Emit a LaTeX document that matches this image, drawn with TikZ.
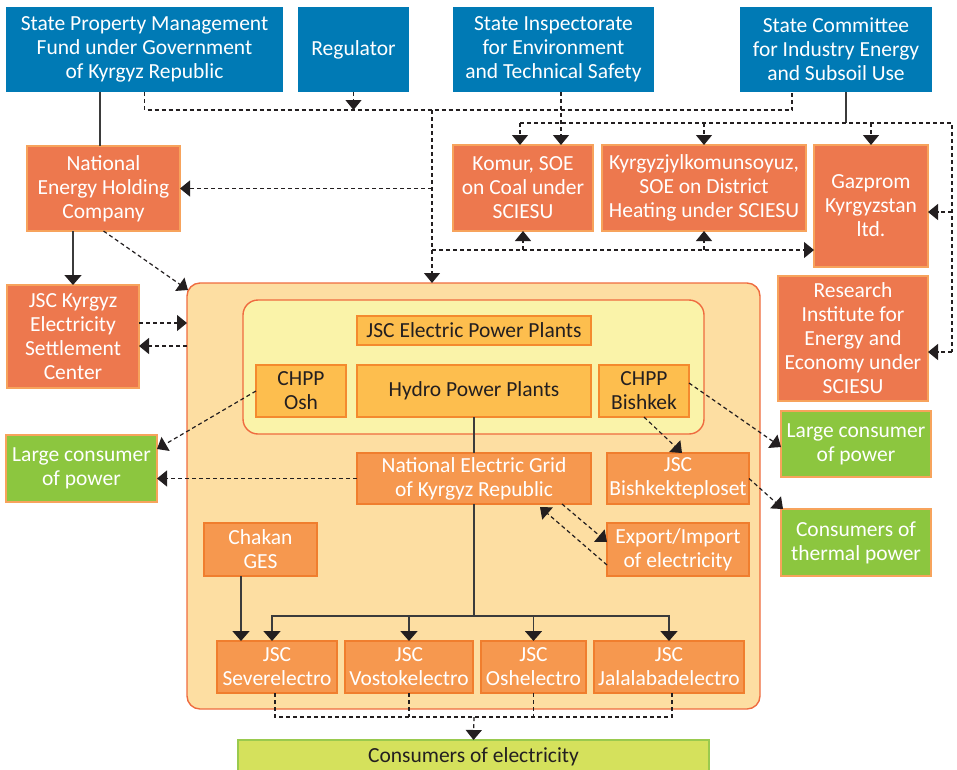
\documentclass[tikz,border=0pt]{standalone}
\usepackage{fontspec}
\setmainfont{Carlito}
\usepackage{xcolor}
\usepackage{tikz}
\usetikzlibrary{arrows.meta,positioning,calc}
\definecolor{govblue}{HTML}{007AB5}
\definecolor{orgfill}{HTML}{ED784E}
\definecolor{orgline}{HTML}{F7A35C}
\definecolor{unitfill}{HTML}{F6984F}
\definecolor{unitline}{HTML}{F07E2E}
\definecolor{plantfill}{HTML}{FDBE4E}
\definecolor{plantline}{HTML}{F48A2E}
\definecolor{holdfill}{HTML}{FDDEA2}
\definecolor{innerfill}{HTML}{FAF3A9}
\definecolor{holdline}{HTML}{EF6B3F}
\definecolor{userfill}{HTML}{8CC63F}
\definecolor{sumfill}{HTML}{D5E15C}
\definecolor{sumline}{HTML}{9ACA4E}
\definecolor{inkdark}{HTML}{231F20}
\definecolor{linegray}{HTML}{3B3B3B}
\tikzset{
  govbox/.style={fill=govblue, text=white, minimum height=85pt, align=center, inner sep=2pt, outer sep=0pt},
  orgbox/.style={draw=orgline, line width=1.2pt, fill=orgfill, text=white, align=center, inner sep=2pt, outer sep=0pt},
  unitbox/.style={draw=unitline, line width=1.2pt, fill=unitfill, text=white, align=center, inner sep=2pt, outer sep=0pt},
  plantbox/.style={draw=plantline, line width=1.2pt, fill=plantfill, text=inkdark, align=center, inner sep=2pt, outer sep=0pt},
  userbox/.style={draw=orgline, line width=1.2pt, fill=userfill, text=white, align=center, inner sep=2pt, outer sep=0pt},
  sumbox/.style={draw=sumline, line width=1.2pt, fill=sumfill, text=inkdark, align=center, inner sep=2pt, outer sep=0pt},
  holder/.style={draw=holdline, line width=1.4pt, rounded corners=13pt, inner sep=0pt, outer sep=0pt},
  plainline/.style={draw=linegray, line width=1.6pt},
  linkarrow/.style={plainline, -{Triangle[length=10pt,width=17pt,color=inkdark]}},
  dashline/.style={draw=inkdark, line width=1.2pt, dash pattern=on 4pt off 3pt},
  dasharrow/.style={dashline, -{Triangle[length=10pt,width=16pt]}},
}
\begin{document}
\begin{tikzpicture}[x=1pt, y=-1pt, font=\fontsize{21.5}{24}\selectfont]
  \path[use as bounding box, clip] (0,0) rectangle (957,769);

  % Government bodies
  \node[govbox, minimum width=277pt, anchor=north west] (spm) at (6,7) {State Property Management\\Fund under Government\\of Kyrgyz Republic};
  \node[govbox, minimum width=111pt, right=15pt of spm] (reg) {Regulator};
  \node[govbox, minimum width=201pt, right=44pt of reg] (insp) {State Inspectorate\\for Environment\\and Technical Safety};
  \node[govbox, minimum width=192pt, right=86pt of insp] (com) {State Committee\\for Industry Energy\\and Subsoil Use};

  % Holding and state enterprises
  \node[orgbox, minimum width=153pt, minimum height=85pt, anchor=north west] (nehc) at (27,146) {National\\Energy Holding\\Company};
  \node[orgbox, minimum width=132pt, minimum height=103pt, anchor=north west] (kesc) at (7,285) {JSC Kyrgyz\\Electricity\\Settlement\\Center};
  \node[orgbox, minimum width=140pt, minimum height=86pt, anchor=north west] (komur) at (453,145) {Komur, SOE\\on Coal under\\SCIESU};
  \node[orgbox, minimum width=204pt, minimum height=86pt, right=9pt of komur] (kyr) {Kyrgyzjylkomunsoyuz,\\SOE on District\\Heating under SCIESU};
  \node[orgbox, minimum width=114pt, minimum height=122pt, anchor=north west] (gaz) at (814,145) {Gazprom\\Kyrgyzstan\\ltd.};
  \node[orgbox, minimum width=150pt, minimum height=125pt, anchor=north west] (res) at (778,276) {Research\\Institute for\\Energy and\\Economy under\\SCIESU};

  % Energy sector
  \node[holder, fill=holdfill, minimum width=573pt, minimum height=426pt, anchor=north west] (big) at (187,283) {};
  \node[holder, fill=innerfill, rounded corners=15pt, minimum width=461pt, minimum height=134pt, anchor=north west] (inner) at (243,300) {};
  \node[plantbox, minimum width=234pt, minimum height=29pt, anchor=north west] (epp) at (357,316) {JSC Electric Power Plants};
  \node[plantbox, minimum width=234pt, minimum height=52pt, below=20pt of epp] (hydro) {Hydro Power Plants};
  \node[plantbox, minimum width=90pt, minimum height=52pt, left=11pt of hydro] (osh) {CHPP\\Osh};
  \node[plantbox, minimum width=90pt, minimum height=52pt, right=8pt of hydro] (bish) {CHPP\\Bishkek};
  \node[unitbox, minimum width=234pt, minimum height=51pt, below=36pt of hydro] (neg) {National Electric Grid\\of Kyrgyz Republic};
  \node[unitbox, minimum width=142pt, minimum height=51pt, right=16pt of neg] (btp) {JSC\\Bishkekteploset};
  \node[unitbox, minimum width=142pt, minimum height=53pt, below=19pt of btp] (expo) {Export/Import\\of electricity};
  \node[unitbox, minimum width=113pt, minimum height=53pt, anchor=north west] (chakan) at (204,523) {Chakan\\GES};
  \node[unitbox, minimum width=120pt, minimum height=52pt, anchor=north west] (sever) at (217,641) {JSC\\Severelectro};
  \node[unitbox, minimum width=128pt, minimum height=52pt, right=8pt of sever] (vost) {JSC\\Vostokelectro};
  \node[unitbox, minimum width=105pt, minimum height=52pt, right=8pt of vost] (oshel) {JSC\\Oshelectro};
  \node[unitbox, minimum width=150pt, minimum height=52pt, right=8pt of oshel] (jal) {JSC\\Jalalabadelectro};

  % Consumers
  \node[userbox, minimum width=151pt, minimum height=67pt, anchor=north west] (lcl) at (6,435) {Large consumer\\of power};
  \node[userbox, minimum width=150pt, minimum height=66pt, anchor=north west] (lcr) at (781,411) {Large consumer\\of power};
  \node[userbox, minimum width=150pt, minimum height=67pt, below=32pt of lcr] (therm) {Consumers of\\thermal power};
  \node[sumbox, minimum width=471pt, minimum height=34pt, anchor=north west] (cons) at (238,740) {Consumers of electricity};

  % Bus coordinates
  \coordinate (hubA) at (432,110);
  \coordinate (hubB) at (846,123);
  \coordinate (rail) at (952,123);
  \coordinate (low) at (432,250);
  \coordinate (fork) at (474,616);
  \coordinate (sink) at (474,717);
  \coordinate (gazin) at ([yshift=-6pt]gaz.east);
  \coordinate (resin) at ([yshift=-13.5pt]res.east);

  % Upper connections
  \draw[plainline] (spm.south -| nehc.north) ++(-3.5,0) -- ([xshift=-3.5pt]nehc.north);
  \draw[linkarrow] (kesc.north |- nehc.south) -- (kesc.north);
  \draw[dasharrow] (nehc.south) -- ([shift={(1pt,-7pt)}]big.north west);
  \draw[dasharrow] ([yshift=13.5pt]kesc.east) -- ([yshift=13.5pt]kesc.east -| big.west);
  \draw[dasharrow] ([yshift=-9.5pt]kesc.east -| big.west) -- ([yshift=-9.5pt]kesc.east);
  \draw[dashline] (spm.south) |- ([xshift=-44pt]com.south |- hubA) -- ([xshift=-44pt]com.south);
  \draw[dasharrow] (reg.south) -- (reg.south |- hubA);
  \draw[dasharrow] ([xshift=7.5pt]insp.south) -- ([xshift=7.5pt]insp.south |- komur.north);
  \draw[dasharrow] (hubA) -- (hubA |- big.north);
  \draw[dasharrow] (hubA |- nehc.east) -- (nehc.east);
  \draw[dasharrow] (low) -- (low -| gaz.west);
  \draw[dasharrow] (komur.south |- low) -- (komur.south);
  \draw[dasharrow] (kyr.south |- low) -- (kyr.south);
  \draw[plainline] ([xshift=10pt]com.south) -- (hubB);
  \draw[dashline] ([xshift=-3pt]komur.north |- hubB) -| (rail |- resin);
  \draw[dasharrow] ([xshift=-3pt]komur.north |- hubB) -- ([xshift=-3pt]komur.north);
  \draw[dasharrow] (kyr.north |- hubB) -- (kyr.north);
  \draw[dasharrow] (gaz.north |- hubB) -- (gaz.north);
  \draw[dasharrow] (rail |- gazin) -- (gazin);
  \draw[dasharrow] (rail |- resin) -- (resin);

  % Plants and grid
  \draw[dasharrow] (osh.west) -- ([yshift=-14pt]lcl.north east);
  \draw[dasharrow] (neg.west) -- (neg.west -| lcl.east);
  \draw[dasharrow] ([yshift=8pt]bish.east) -- ([yshift=-3pt]lcr.west);
  \draw[dasharrow] (bish.south) -- ([xshift=4pt]btp.north);
  \draw[dasharrow] (btp.east) -- ([xshift=2pt]therm.north west);
  \draw[dasharrow] ([xshift=88pt]neg.south) -- ([yshift=7.5pt]expo.west);
  \draw[dasharrow] ([yshift=-15.5pt]expo.west) -- ([shift={(66pt,-3pt)}]neg.south);

  % Distribution
  \draw[plainline] (hydro.south) -- (neg.north);
  \draw[plainline] (neg.south) -- (fork);
  \draw[linkarrow] (fork) -| ([xshift=-5pt]sever.north);
  \draw[linkarrow] (fork) -| (jal.north);
  \draw[linkarrow] (vost.north |- fork) -- (vost.north);
  \draw[linkarrow] (oshel.north |- fork) -- (oshel.north);
  \draw[linkarrow] ([xshift=-19.5pt]chakan.south) -- ([xshift=-19.5pt]chakan.south |- sever.north);
  \draw[dashline] ([xshift=-2pt]sever.south) |- ([xshift=3pt]jal.south |- sink) -- ([xshift=3pt]jal.south);
  \draw[dashline] (vost.south) -- (vost.south |- sink);
  \draw[dashline] (oshel.south) -- (oshel.south |- sink);
  \draw[dasharrow] (sink) -- (cons.north);
\end{tikzpicture}
\end{document}
